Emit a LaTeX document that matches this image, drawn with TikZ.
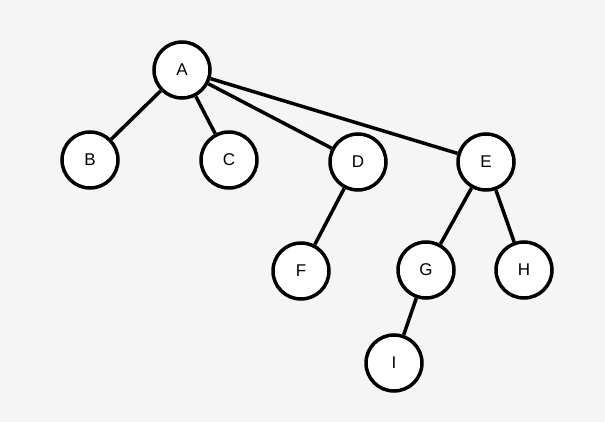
\documentclass[tikz,border=0pt]{standalone}
\usepackage{fontspec}
\setmainfont{Liberation Sans}
\begin{document}
\begin{tikzpicture}[x=1pt,y=-1pt,
  nd/.style={circle,draw=black,line width=3.5pt,fill=white,minimum size=56pt,inner sep=0pt,font=\fontsize{17}{17}\selectfont},
  ed/.style={line width=3.5pt}]
\fill[white!96!black] (0,0) rectangle (605,422);
\useasboundingbox (0,0) rectangle (605,422);
\node[nd] (A) at (182,70) {A};
\node[nd] (B) at (90,160) {B};
\node[nd] (C) at (229,160) {C};
\node[nd] (D) at (358,162) {D};
\node[nd] (E) at (486,162) {E};
\node[nd] (F) at (301,271) {F};
\node[nd] (G) at (426,270) {G};
\node[nd] (H) at (524,270) {H};
\node[nd] (I) at (394,363) {I};
\foreach \a/\b in {A/B,A/C,A/D,A/E,D/F,E/G,E/H,G/I}
  \draw[ed] (\a) -- (\b);
\end{tikzpicture}
\end{document}
